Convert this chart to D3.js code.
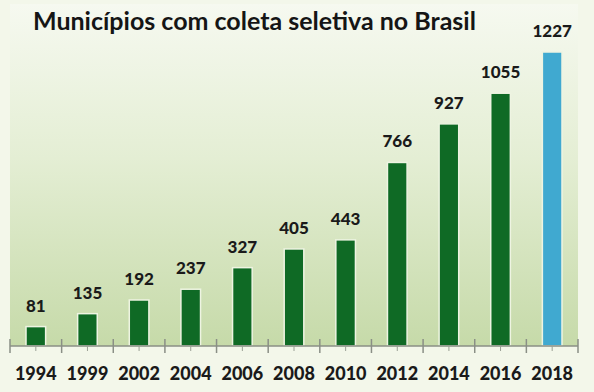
<!DOCTYPE html>
<html>
<head>
<meta charset="utf-8">
<script src="https://cdn.jsdelivr.net/npm/d3@7"></script>
<style>
  body { margin: 0; background: #f3f7ea; }
  svg { display: block; }
</style>
</head>
<body>
<svg id="chart" width="594" height="392"></svg>
<script>
/////// Data ///////

var years = ["1994", "1999", "2002", "2004", "2006", "2008", "2010", "2012", "2014", "2016", "2018"];
var municipios = [81, 135, 192, 237, 327, 405, 443, 766, 927, 1055, 1227];
var title = "Municípios com coleta seletiva no Brasil";

/////// Setup ///////

var svg = d3.select("#chart"),
margin = {top: 52, left: 10, right: 16, bottom: 46},
width = +svg.attr("width"),
height = +svg.attr("height");

var base = height - margin.bottom;

var x = d3.scaleBand()
    .domain(years)
    .range([margin.left, width - margin.right])
    .paddingInner(0.62)
    .paddingOuter(0.31);

var y = d3.scaleLinear()
    .domain([0, d3.max(municipios)])
    .range([base, margin.top]);

// background gradient of the plot area
var grad = svg.append("defs").append("linearGradient")
    .attr("id", "bg")
    .attr("x1", 0).attr("y1", 0).attr("x2", 0).attr("y2", 1);
grad.append("stop").attr("offset", "0%").attr("stop-color", "#f6f9f0");
grad.append("stop").attr("offset", "45%").attr("stop-color", "#e4eed4");
grad.append("stop").attr("offset", "100%").attr("stop-color", "#c6daa9");

svg.append("rect")
    .attr("x", x.range()[0])
    .attr("y", 4)
    .attr("width", x.range()[1] - x.range()[0])
    .attr("height", base - 4)
    .attr("fill", "url(#bg)");

/////// Bars ///////

var data = years.map(function(d, i) { return {year: d, value: municipios[i]}; });

svg.selectAll(".bar")
    .data(data)
    .enter().append("rect")
    .attr("class", "bar")
    .attr("x", function(d) { return x(d.year); })
    .attr("y", function(d) { return y(d.value); })
    .attr("width", x.bandwidth())
    .attr("height", function(d) { return base - y(d.value); })
    .attr("fill", function(d, i) { return i == data.length - 1 ? "#40a9d0" : "#0f6a25"; })
    .attr("stroke", "#eef4e2")
    .attr("stroke-width", 1.5);

svg.selectAll(".val")
    .data(data)
    .enter().append("text")
    .attr("class", "val")
    .attr("x", function(d) { return x(d.year) + x.bandwidth() / 2; })
    .attr("y", function(d) { return y(d.value) - 15; })
    .attr("text-anchor", "middle")
    .attr("font-family", "Lato, sans-serif")
    .attr("font-weight", "900")
    .attr("font-size", "17px")
    .attr("fill", "#1a1a1a")
    .text(function(d) { return d.value; });

/////// Axis ///////

var step = x.step();
var bounds = years.map(function(d) { return x(d) + x.bandwidth() / 2 - step / 2; });
bounds.push(x.range()[1]);

var axis = svg.append("g").attr("class", "axis");

axis.append("line")
    .attr("x1", x.range()[0]).attr("x2", x.range()[1])
    .attr("y1", base).attr("y2", base)
    .attr("stroke", "#8a8f86").attr("stroke-width", 1.5);

axis.selectAll(".tick")
    .data(bounds)
    .enter().append("line")
    .attr("x1", function(d) { return d; }).attr("x2", function(d) { return d; })
    .attr("y1", base - 7).attr("y2", base + 7)
    .attr("stroke", "#8a8f86").attr("stroke-width", 1.5);

axis.selectAll(".minor")
    .data(years)
    .enter().append("line")
    .attr("x1", function(d) { return x(d) + x.bandwidth() / 2; })
    .attr("x2", function(d) { return x(d) + x.bandwidth() / 2; })
    .attr("y1", base).attr("y2", base + 5)
    .attr("stroke", "#9aa095").attr("stroke-width", 1);

axis.selectAll(".lbl")
    .data(years)
    .enter().append("text")
    .attr("x", function(d) { return x(d) + x.bandwidth() / 2; })
    .attr("y", base + 34)
    .attr("text-anchor", "middle")
    .attr("font-family", "Lato, sans-serif")
    .attr("font-weight", "900")
    .attr("font-size", "18px")
    .attr("fill", "#1a1a1a")
    .text(function(d) { return d; });

/////// Title ///////

svg.append("text")
    .attr("x", 33)
    .attr("y", 30)
    .attr("font-family", "Lato, sans-serif")
    .attr("font-weight", "bold")
    .attr("font-size", "25px")
    .attr("fill", "#151515")
    .text(title);
</script>
</body>
</html>
